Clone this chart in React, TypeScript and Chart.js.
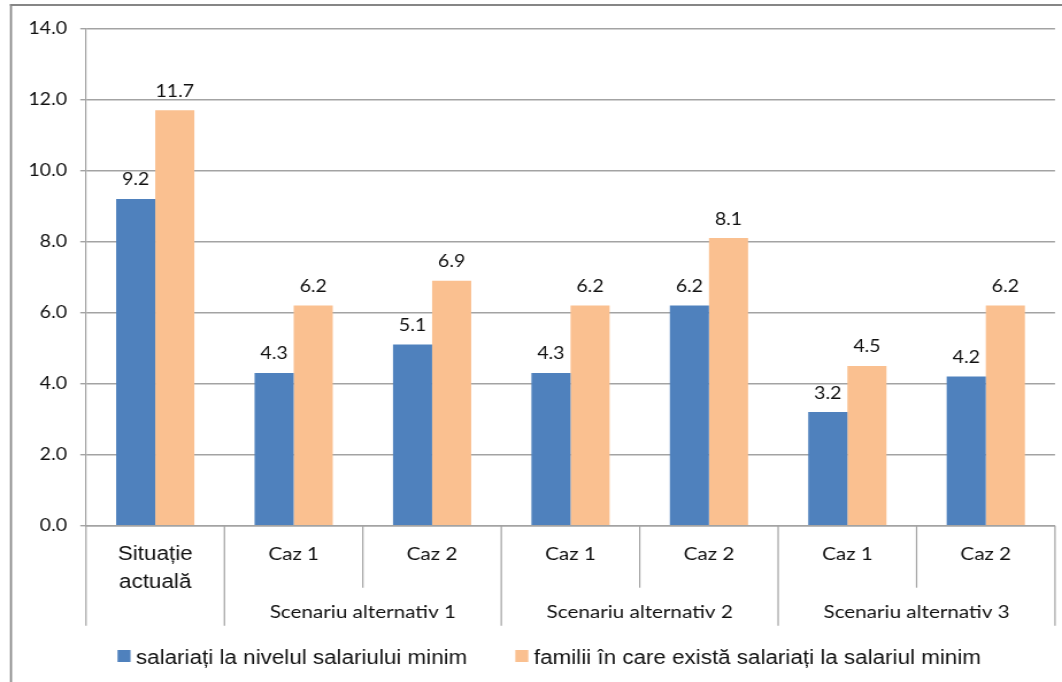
import React, { useEffect, useRef } from 'react';
import { Chart, registerables } from 'chart.js';

Chart.register(...registerables);

// ---------- data ----------
const categories: (string | string[])[] = [['Situație', 'actuală'], 'Caz 1', 'Caz 2', 'Caz 1', 'Caz 2', 'Caz 1', 'Caz 2'];
const groupLabels = ['Scenariu alternativ 1', 'Scenariu alternativ 2', 'Scenariu alternativ 3'];
const groupStarts = [1, 3, 5];
const seriesNames = ['salariați la nivelul salariului minim', 'familii în care există salariați la salariul minim'];
const salariati = [9.2, 4.3, 5.1, 4.3, 6.2, 3.2, 4.2];
const familii = [11.7, 6.2, 6.9, 6.2, 8.1, 4.5, 6.2];
const yMin = 0;
const yMax = 14;
const yStep = 2;

// ---------- geometry ----------
const PAGE_W = 1062;
const PAGE_H = 682;
const W = 924; // internal canvas width, stretched horizontally to PAGE_W
const K = PAGE_W / W;
const px = (pageX: number) => pageX / K;

const BLUE = '#4f81bd';
const ORANGE = '#fac090';
const GRID = '#a3a3a3';
const TEXT = '#111';

const decor = {
  id: 'decor',
  afterDraw(chart: any) {
    const ctx = chart.ctx as CanvasRenderingContext2D;
    const xs = chart.scales.x;
    const ys = chart.scales.y;
    ctx.save();

    // outer frame (left + top)
    ctx.strokeStyle = '#868686';
    ctx.lineWidth = 2;
    ctx.beginPath();
    ctx.moveTo(px(10), 5);
    ctx.lineTo(W, 5);
    ctx.stroke();
    ctx.lineWidth = 2 / K;
    ctx.beginPath();
    ctx.moveTo(px(11), 4);
    ctx.lineTo(px(11), PAGE_H);
    ctx.stroke();

    // category separators below the axis
    const n = categories.length;
    const step = xs.getPixelForValue(1) - xs.getPixelForValue(0);
    const base = ys.getPixelForValue(0);
    ctx.strokeStyle = GRID;
    ctx.lineWidth = 1.4 / K;
    for (let i = 0; i <= n; i++) {
      const bx = xs.getPixelForValue(0) - step / 2 + i * step;
      const edge = i === 0 || i === n || groupStarts.includes(i);
      ctx.beginPath();
      ctx.moveTo(bx, base);
      ctx.lineTo(bx, base + (edge ? 100 : 62));
      ctx.stroke();
    }

    // category labels
    ctx.fillStyle = TEXT;
    ctx.textAlign = 'center';
    ctx.textBaseline = 'alphabetic';
    categories.forEach((lab, i) => {
      const cx = xs.getPixelForValue(i);
      if (Array.isArray(lab)) {
        ctx.font = '19.5px "Liberation Sans", Arial, sans-serif';
        lab.forEach((line, j) => ctx.fillText(line, cx, base + 34.5 + j * 28));
      } else {
        ctx.font = '18px Lato, sans-serif';
        ctx.fillText(lab, cx, base + 34.5);
      }
    });

    // group labels
    ctx.font = '18px Lato, sans-serif';
    groupLabels.forEach((g, gi) => {
      const s = groupStarts[gi];
      const cx = (xs.getPixelForValue(s) + xs.getPixelForValue(s + 1)) / 2;
      ctx.fillText(g, cx, base + 92.5);
    });

    // data labels
    ctx.font = '17px Lato, sans-serif';
    chart.data.datasets.forEach((ds: any, di: number) => {
      const meta = chart.getDatasetMeta(di);
      meta.data.forEach((el: any, i: number) => {
        ctx.fillText(Number(ds.data[i]).toFixed(1), el.x, el.y - 13.5);
      });
    });

    // legend
    ctx.textAlign = 'left';
    ctx.font = '19.5px "Liberation Sans", Arial, sans-serif';
    let lx = px(117.5);
    chart.data.datasets.forEach((ds: any) => {
      ctx.fillStyle = ds.backgroundColor;
      ctx.fillRect(lx, 650, px(13), 12);
      ctx.fillStyle = TEXT;
      const tx = lx + px(13) + px(5.5);
      ctx.fillText(ds.label, tx, 663.5);
      lx = tx + ctx.measureText(ds.label).width + px(48);
    });

    ctx.restore();
  },
};

export default function App() {
  const ref = useRef<HTMLCanvasElement | null>(null);

  useEffect(() => {
    const canvas = ref.current!;
    const chart = new Chart(canvas, {
      type: 'bar',
      data: {
        labels: categories,
        datasets: [
          { label: seriesNames[0], data: salariati, backgroundColor: BLUE, borderWidth: 0 },
          { label: seriesNames[1], data: familii, backgroundColor: ORANGE, borderWidth: 0 },
        ],
      },
      options: {
        responsive: false,
        animation: false,
        devicePixelRatio: 1,
        events: [],
        layout: { padding: { left: 0, right: W - px(1055), top: 28.5, bottom: 0 } },
        datasets: { bar: { categoryPercentage: 0.565, barPercentage: 1 } },
        plugins: { legend: { display: false }, tooltip: { enabled: false }, title: { display: false } },
        scales: {
          x: {
            type: 'category',
            offset: true,
            grid: { display: false },
            border: { display: true, color: GRID, width: 1.4 },
            ticks: { display: false },
            afterFit: (s: any) => { s.height = PAGE_H - 525.7; },
          },
          y: {
            min: yMin,
            max: yMax,
            grid: { color: GRID, lineWidth: 1.4, tickLength: 5, tickColor: GRID, drawTicks: true },
            border: { display: true, color: GRID, width: 1.4 / K },
            ticks: {
              stepSize: yStep,
              padding: 11.5,
              color: TEXT,
              font: { family: 'Lato, sans-serif', size: 17 },
              callback: (v: any) => Number(v).toFixed(1),
            },
            afterFit: (s: any) => { s.width = px(86); },
          },
        },
      },
      plugins: [decor],
    });
    return () => chart.destroy();
  }, []);

  return (
    <div style={{ position: 'absolute', left: 0, top: 0, width: PAGE_W, height: PAGE_H, background: '#fff' }}>
      <canvas
        ref={ref}
        width={W}
        height={PAGE_H}
        style={{ width: PAGE_W + 'px', height: PAGE_H + 'px', display: 'block' }}
      />
    </div>
  );
}
